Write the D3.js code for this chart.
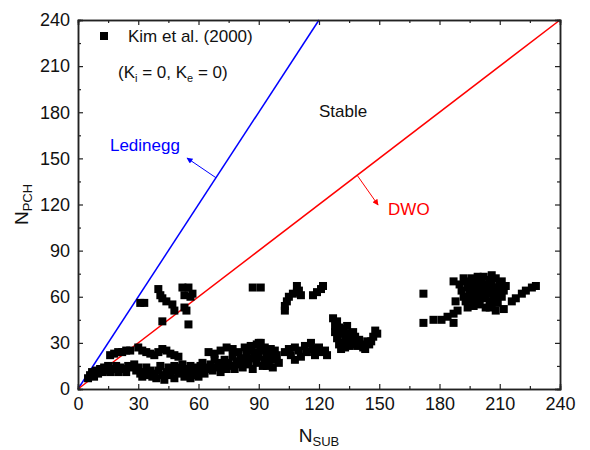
<!DOCTYPE html>
<html>
<head>
<meta charset="utf-8">
<script src="https://cdn.jsdelivr.net/npm/d3@7"></script>
<style>
  body { margin: 0; background: #fff; }
  svg text { font-family: "Liberation Sans", Arial, sans-serif; }
</style>
</head>
<body>
<div id="chart"></div>
<script>
// ---- Data (N_SUB, N_PCH) ----
var MAJOR_TICKS = [0, 30, 60, 90, 120, 150, 180, 210, 240];
var MINOR_TICKS = [15, 45, 75, 105, 135, 165, 195, 225];

// stability boundaries
var ledineggLine = [[0, 0], [120, 240]];
var dwoLine = [[0, 0], [240, 240]];

// Kim et al. (2000) points, grouped by cluster
var lowBandLeft = [
  [5, 7], [6, 9], [7, 11], [8, 8], [9, 12], [10, 10], [11, 13], [12, 11], [13, 14],
  [14, 12], [15, 15], [16, 11], [17, 13], [19, 15], [20, 11], [21, 14], [23, 13],
  [24, 11], [25, 15], [27, 14], [28, 16], [29, 12], [30, 14], [31, 10], [32, 8],
  [33, 11], [34, 14], [35, 9], [36, 12], [37, 8], [38, 10], [39, 7], [40, 12],
  [41, 15], [42, 9], [43, 6], [44, 11], [45, 14], [46, 9], [47, 12], [48, 7],
  [48, 15], [49, 13], [50, 10], [51, 14], [52, 11], [52, 16], [53, 8], [54, 13],
  [55, 10], [56, 15], [56, 7], [57, 12], [58, 9], [59, 14], [60, 11], [60, 8],
  [61, 15], [62, 12], [62, 17], [63, 10], [64, 14], [65, 13]
];
var upperBandLeft = [
  [16, 22], [18, 23], [20, 24], [22, 24], [24, 25], [26, 25], [30, 27], [32, 25],
  [34, 24], [36, 23], [38, 22], [40, 24], [42, 26], [44, 25], [46, 23], [48, 22], [50, 21]
];
var lowBandMid = [
  [66, 16], [67, 12], [68, 19], [69, 14], [70, 17], [71, 11], [72, 15], [73, 19],
  [74, 13], [75, 17], [76, 15], [77, 21], [78, 13], [79, 18], [80, 16], [81, 20],
  [82, 14], [83, 18], [84, 22], [84, 26], [85, 16], [86, 20], [86, 28], [87, 13],
  [88, 24], [88, 20], [89, 17], [90, 21], [90, 30], [91, 26], [92, 15], [92, 25],
  [93, 19], [94, 23], [94, 15], [95, 17], [96, 21], [96, 26], [97, 14], [98, 19],
  [98, 25], [99, 22], [100, 17]
];
var upperBandMid = [
  [65, 24], [68, 23], [71, 25], [74, 27], [77, 26], [80, 24], [83, 27], [86, 25],
  [89, 29], [91, 30], [93, 27], [95, 24]
];
var lowBandRight = [
  [103, 24], [105, 26], [106, 22], [108, 27], [108, 19], [110, 25], [111, 21],
  [113, 28], [114, 24], [116, 30], [117, 26], [118, 22], [120, 27], [121, 24],
  [123, 25], [124, 22]
];
var risingBand = [
  [127, 46], [128, 41], [128, 37], [129, 33], [129, 44], [130, 29], [130, 40],
  [131, 26], [131, 36], [132, 39], [132, 30], [133, 35], [133, 27], [134, 31],
  [134, 41], [135, 28], [135, 36], [136, 33], [136, 29], [137, 37], [138, 31],
  [138, 34], [139, 28], [140, 32], [141, 29], [142, 27], [143, 26], [144, 31],
  [145, 29], [146, 31], [147, 34], [148, 38], [149, 36]
];
var upperLeftGroup = [
  [31, 56], [33, 56], [40, 65], [41, 61], [42, 59], [44, 57], [47, 55], [48, 51],
  [42, 44], [52, 66], [55, 66], [53, 61], [56, 60], [53, 53], [54, 51], [55, 42], [57, 62]
];
var upperMidGroup = [
  [87, 66], [91, 66],
  [103, 51], [103, 54], [104, 57], [105, 60], [107, 62], [109, 63], [109, 67],
  [110, 64], [111, 61],
  [117, 61], [119, 63], [121, 65], [122, 67]
];
var rightGroup = [
  [172, 62], [172, 43], [177, 45], [181, 45], [184, 47], [187, 49], [189, 51],
  [187, 43], [188, 57], [187, 70],
  [190, 68], [193, 70], [196, 72], [199, 70], [202, 73], [205, 71], [208, 72],
  [211, 70], [213, 67], [191, 64], [194, 66], [197, 65], [200, 67], [203, 66],
  [206, 68], [209, 66], [212, 64], [192, 60], [195, 62], [198, 60], [201, 63],
  [204, 62], [207, 61], [210, 63], [193, 57], [196, 58], [199, 56], [202, 59],
  [205, 57], [208, 58], [194, 53], [197, 54], [200, 55], [203, 53],
  [195, 67], [198, 68], [201, 69], [204, 68], [207, 66], [210, 67], [196, 62],
  [199, 64], [202, 61], [205, 64], [208, 63], [194, 60], [197, 57], [200, 59],
  [203, 60], [206, 55], [209, 56], [211, 60], [199, 73], [206, 74], [192, 72],
  [205, 53], [208, 51], [212, 52],
  [216, 57], [218, 59], [221, 62], [223, 64], [226, 66], [228, 67]
];

var kimPoints = [].concat(lowBandLeft, upperBandLeft, lowBandMid, upperBandMid,
  lowBandRight, risingBand, upperLeftGroup, upperMidGroup, rightGroup);

// annotations (data coordinates)
var ledineggArrow = [[68.7, 137.4], [54.3, 150.2]];
var dwoArrow = [[139, 139], [149.4, 119.7]];

// ---- Layout ----
var W = 590, H = 450;
var margin = { top: 20, right: 30, bottom: 61, left: 78 };
var width = W - margin.left - margin.right;
var height = H - margin.top - margin.bottom;

var svg = d3.select('#chart').append('svg')
  .attr('width', W)
  .attr('height', H);

svg.append('defs').selectAll('marker')
  .data([['arrowBlue', '#0000ff'], ['arrowRed', '#ff0000']])
  .enter().append('marker')
  .attr('id', function (d) { return d[0]; })
  .attr('viewBox', '0 0 10 10')
  .attr('refX', 9).attr('refY', 5)
  .attr('markerWidth', 8).attr('markerHeight', 6)
  .attr('markerUnits', 'userSpaceOnUse')
  .attr('orient', 'auto')
  .append('path')
  .attr('d', 'M0,0 L10,5 L0,10 Z')
  .attr('fill', function (d) { return d[1]; });

var g = svg.append('g').attr('transform', 'translate(' + margin.left + ',' + margin.top + ')');

var x = d3.scaleLinear().domain([0, 240]).range([0, width]);
var y = d3.scaleLinear().domain([0, 240]).range([height, 0]);

var line = d3.line()
  .x(function (d) { return x(d[0]); })
  .y(function (d) { return y(d[1]); });

// boundaries
g.append('path').datum(ledineggLine)
  .attr('d', line).attr('fill', 'none')
  .attr('stroke', '#0000ff').attr('stroke-width', 1.5);
g.append('path').datum(dwoLine)
  .attr('d', line).attr('fill', 'none')
  .attr('stroke', '#ff0000').attr('stroke-width', 1.5);

// arrows
g.append('path').datum(ledineggArrow)
  .attr('d', line).attr('stroke', '#0000ff').attr('stroke-width', 1)
  .attr('marker-end', 'url(#arrowBlue)');
g.append('path').datum(dwoArrow)
  .attr('d', line).attr('stroke', '#ff0000').attr('stroke-width', 1)
  .attr('marker-end', 'url(#arrowRed)');

// points
var S = 8;
g.append('g').selectAll('rect')
  .data(kimPoints)
  .enter().append('rect')
  .attr('x', function (d) { return x(d[0]) - S / 2; })
  .attr('y', function (d) { return y(d[1]) - S / 2; })
  .attr('width', S).attr('height', S)
  .attr('fill', '#000');

// ---- Axes (ticks inside, on all four sides) ----
function styleAxis(sel) {
  sel.select('.domain').attr('stroke', '#222').attr('stroke-width', 1.5);
  sel.selectAll('.tick line').attr('stroke', '#222').attr('stroke-width', 1.2);
  sel.selectAll('.tick text').attr('font-size', 18).attr('fill', '#111')
    .style('font-family', '"Liberation Sans", Arial, sans-serif');
}

var axes = [
  [d3.axisBottom(x), 'translate(0,' + height + ')', true],
  [d3.axisTop(x), 'translate(0,0)', false],
  [d3.axisLeft(y), 'translate(0,0)', true],
  [d3.axisRight(y), 'translate(' + width + ',0)', false]
];
axes.forEach(function (a) {
  var major = a[0].tickValues(MAJOR_TICKS).tickSize(-5).tickPadding(a[2] ? 8 : 0);
  if (!a[2]) major.tickFormat('');
  var ga = g.append('g').attr('transform', a[1]).call(major);
  styleAxis(ga);
  var minorAx = a[0].tickValues(MINOR_TICKS).tickSize(-3).tickFormat('');
  var gm = g.append('g').attr('transform', a[1]).call(minorAx);
  styleAxis(gm);
});

// axis titles
var xt = svg.append('text')
  .attr('x', margin.left + width / 2).attr('y', 442)
  .attr('text-anchor', 'middle').attr('font-size', 19).attr('fill', '#111');
xt.append('tspan').text('N');
xt.append('tspan').attr('font-size', 13).attr('dy', 4).text('SUB');

var yt = svg.append('text')
  .attr('transform', 'translate(28,' + (margin.top + height / 2) + ') rotate(-90)')
  .attr('text-anchor', 'middle').attr('font-size', 19).attr('fill', '#111');
yt.append('tspan').text('N');
yt.append('tspan').attr('font-size', 13).attr('dy', 4).text('PCH');

// ---- Legend and labels ----
svg.append('rect').attr('x', 100).attr('y', 32).attr('width', S).attr('height', S).attr('fill', '#000');
svg.append('text').attr('x', 128).attr('y', 42).attr('font-size', 17).attr('fill', '#111')
  .text('Kim et al. (2000)');

var kt = svg.append('text').attr('x', 118).attr('y', 78).attr('font-size', 17).attr('fill', '#111');
kt.append('tspan').text('(K');
kt.append('tspan').attr('font-size', 11).attr('dy', 4).text('i');
kt.append('tspan').attr('dy', -4).text(' = 0, K');
kt.append('tspan').attr('font-size', 11).attr('dy', 4).text('e');
kt.append('tspan').attr('dy', -4).text(' = 0)');

g.append('text').attr('x', x(120)).attr('y', y(176.9))
  .attr('font-size', 17).attr('fill', '#111').text('Stable');
g.append('text').attr('x', x(15.9)).attr('y', y(154.8))
  .attr('font-size', 17).attr('fill', '#0000ff').text('Ledinegg');
g.append('text').attr('x', x(154.4)).attr('y', y(113.2))
  .attr('font-size', 17).attr('fill', '#ff0000').text('DWO');
</script>
</body>
</html>
